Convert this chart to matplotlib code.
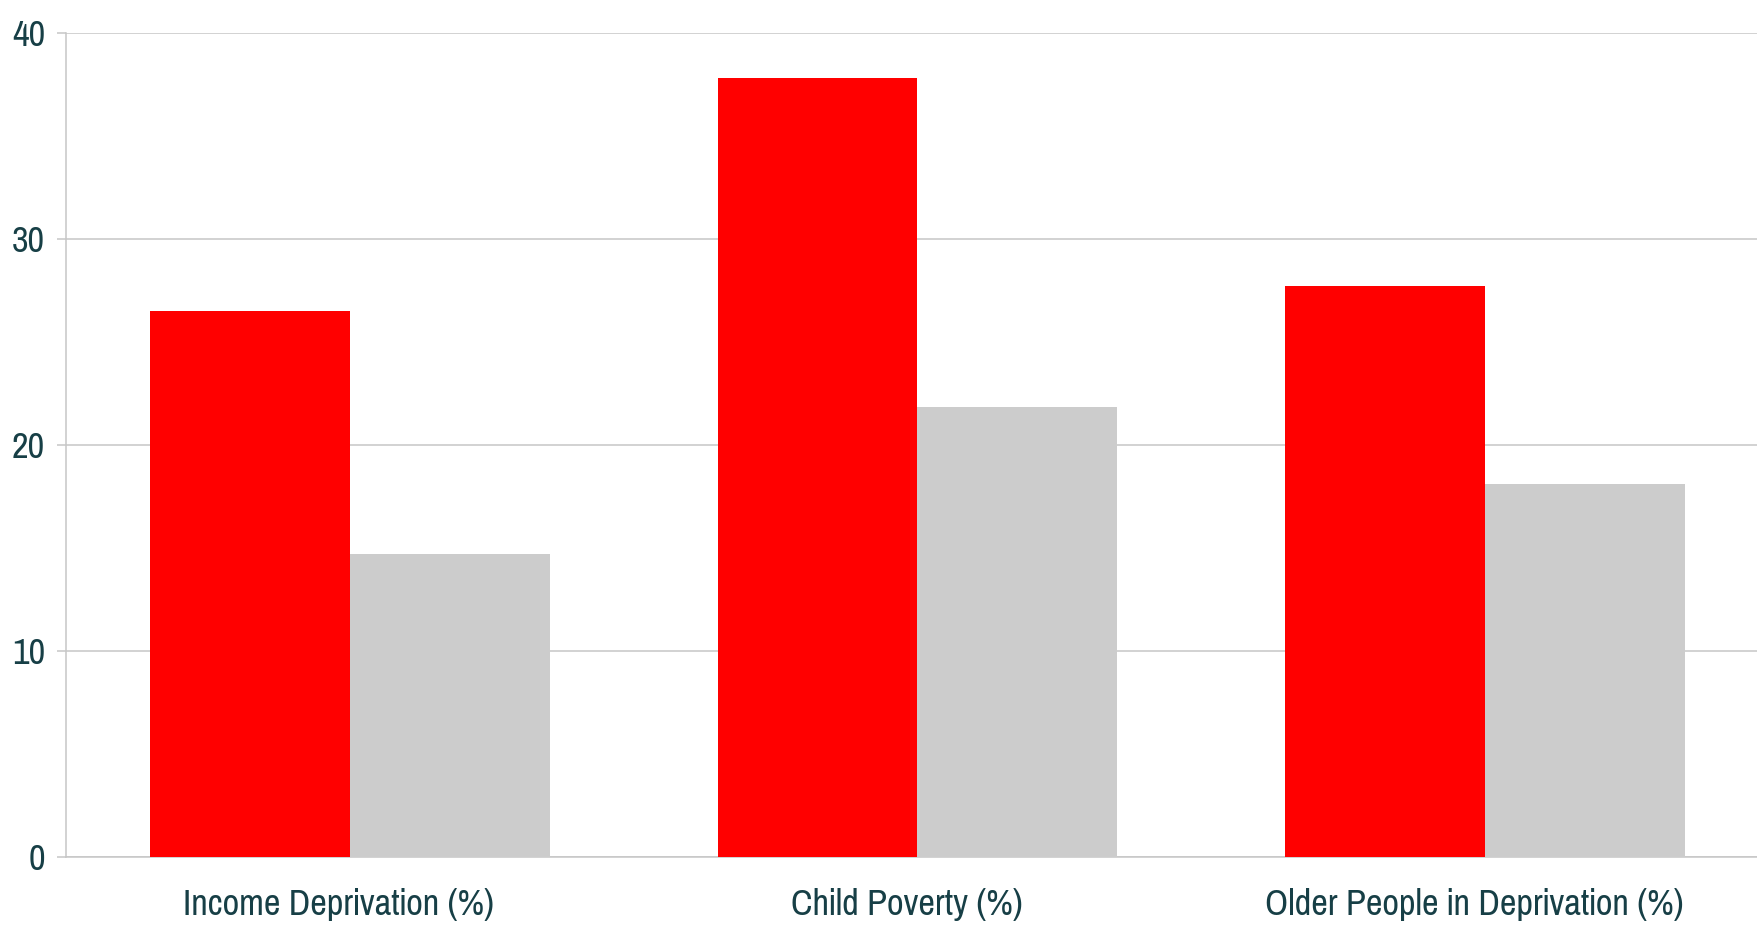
import numpy as np
import matplotlib
matplotlib.use('Agg')
import matplotlib.pyplot as plt
import matplotlib.transforms as mtransforms

categories = ['Income Deprivation (%)', 'Child Poverty (%)',
              'Older People in Deprivation (%)']
area_values = [26.5, 37.8, 27.7]
national_values = [14.7, 21.8, 18.1]
y_ticks = [0, 10, 20, 30, 40]

text_color = '#173f46'
grid_color = '#c6c6c6'
plt.rcParams['font.family'] = ['Pragati Narrow', 'Liberation Sans']

fig = plt.figure(figsize=(17.58, 9.30), dpi=100)
# category pitch is ~567.6 px, the last group runs a little past the edge
ax = fig.add_axes([66 / 1758, 73.5 / 930, 3 * 567.6 / 1758, 824 / 930])

x = np.arange(len(categories))
w = 0.352
ax.bar(x - w, area_values, w, align='edge', color='#ff0000', zorder=3)
ax.bar(x, national_values, w, align='edge', color='#cccccc', zorder=3)

ax.set_xlim(-0.5, len(categories) - 0.5)
ax.set_ylim(0, 40)
ax.set_yticks(y_ticks)
ax.set_yticklabels([str(t) for t in y_ticks])
ax.set_xticks(x)
ax.set_xticklabels(categories)

ax.yaxis.grid(True, color=grid_color, linewidth=1.1, zorder=0)
ax.set_axisbelow(True)
for s in ['top', 'right']:
    ax.spines[s].set_visible(False)
for s in ['left', 'bottom']:
    ax.spines[s].set_color(grid_color)
    ax.spines[s].set_linewidth(1.1)

ax.tick_params(axis='y', length=6.5, width=1.1, color=grid_color, pad=8.5,
               labelsize=28.5, labelcolor=text_color)
ax.tick_params(axis='x', length=0, pad=23, labelsize=28.5, labelcolor=text_color)

# category labels sit a bit left of the group centre in the original
shift = mtransforms.ScaledTranslation(-11 / 100, 0, fig.dpi_scale_trans)
for lbl in ax.get_xticklabels():
    lbl.set_transform(lbl.get_transform() + shift)

fig.savefig('out.png', dpi=100)
